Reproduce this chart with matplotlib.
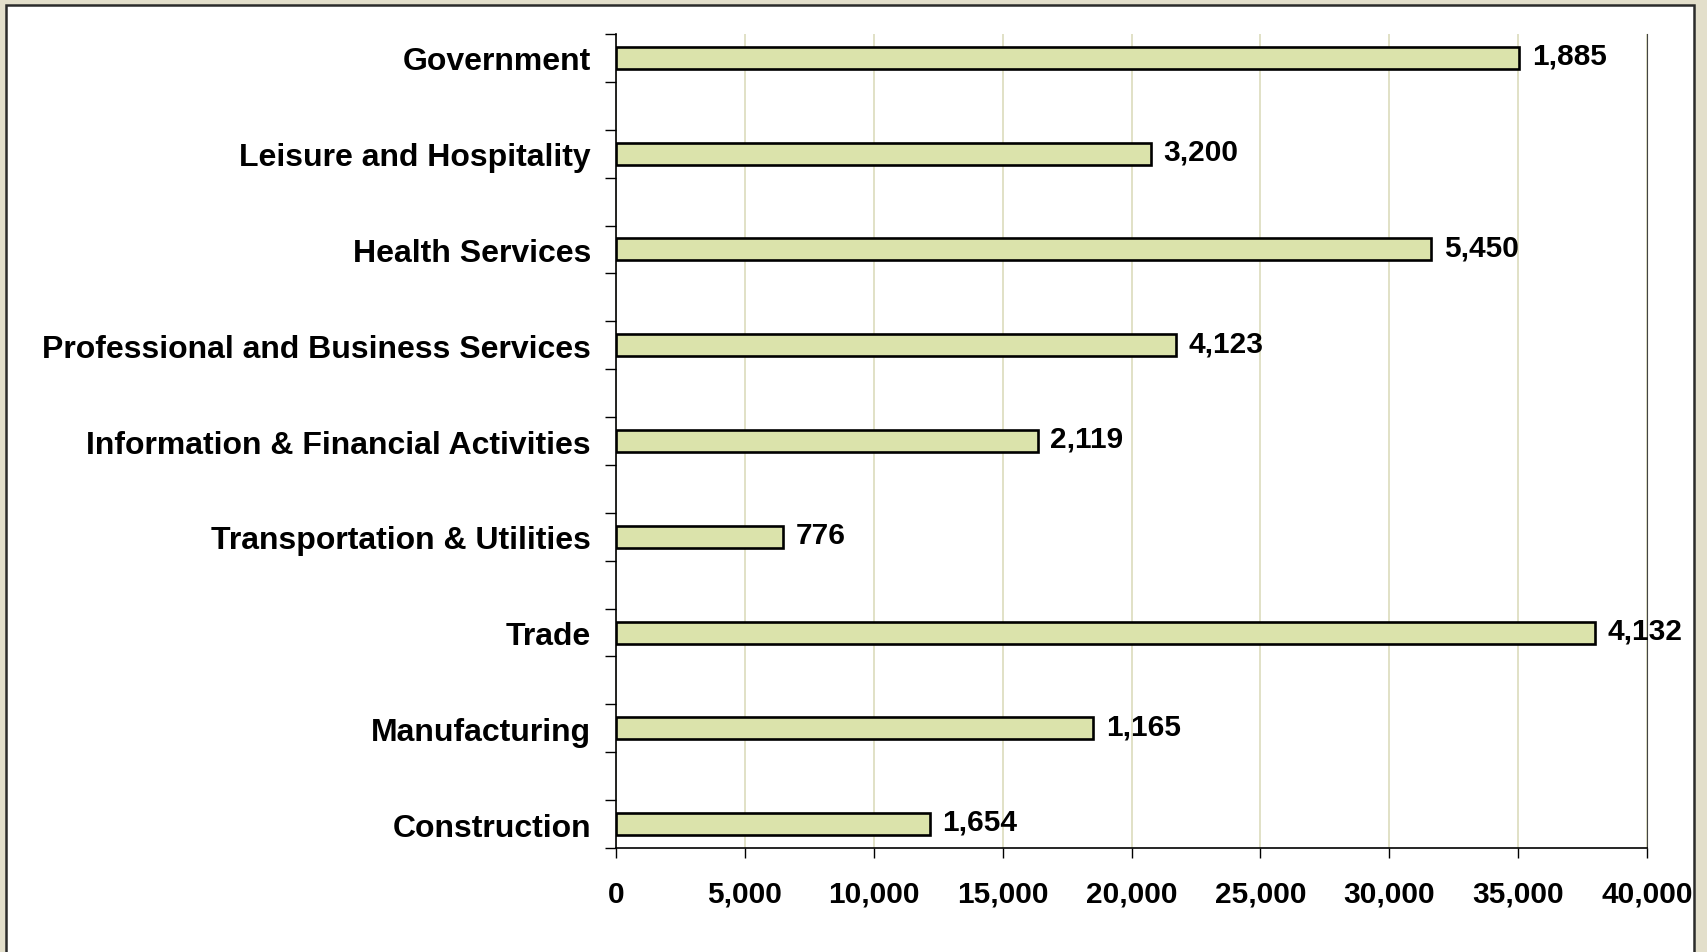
import matplotlib
matplotlib.use("Agg")
import matplotlib.pyplot as plt
from matplotlib.patches import Rectangle
import numpy as np

sectors = ["Government", "Leisure and Hospitality", "Health Services",
           "Professional and Business Services", "Information & Financial Activities",
           "Transportation & Utilities", "Trade", "Manufacturing", "Construction"]
values = [35050, 20760, 31630, 21730, 16360, 6470, 37970, 18520, 12180]
bar_labels = ["1,885", "3,200", "5,450", "4,123", "2,119", "776", "4,132", "1,165", "1,654"]
x_ticks = [0, 5000, 10000, 15000, 20000, 25000, 30000, 35000, 40000]

plt.rcParams['font.family'] = ['Liberation Sans', 'DejaVu Sans']
plt.rcParams['font.weight'] = 'bold'

fig = plt.figure(figsize=(17.07, 9.53), dpi=100)
fig.patch.set_facecolor('#E3DFCB')
# white chart panel with dark frame
fig.patches.append(Rectangle((6 / 1707, -0.01), 1688 / 1707, 1.01 - 6 / 953,
                             transform=fig.transFigure, facecolor='white',
                             edgecolor='#2b2b2b', linewidth=1.8, zorder=-10))

ax = fig.add_axes([616 / 1707, 1 - 849 / 953, 1031 / 1707, 814 / 953])
ax.set_facecolor('none')

# every other slot holds a bar, like the spacer rows of the original sheet
pos = np.arange(len(sectors)) * 2
ax.barh(pos, values, height=0.46, color='#DBE3AB', edgecolor='black',
        linewidth=1.9, zorder=3)

for p, v, lab in zip(pos, values, bar_labels):
    ax.annotate(lab, (v, p), xytext=(9, 1.5), textcoords='offset points',
                ha='left', va='center', fontsize=21.5, fontweight='bold', zorder=4)

ax.set_xlim(0, 40000)
ax.set_ylim(16.5, -0.5)
ax.set_xticks(x_ticks)
ax.set_xticklabels([f"{t:,}" for t in x_ticks], fontsize=21.5, fontweight='bold')
ax.xaxis.grid(True, color='#D8D8B6', linewidth=1.1, zorder=0)

ax.set_yticks(np.arange(-0.5, 17, 1))
ax.set_yticklabels([])
ax.set_yticks(pos, minor=True)
ax.set_yticklabels(sectors, minor=True, fontsize=23, fontweight='bold')
ax.tick_params(axis='y', which='major', length=8, width=1, direction='out')
ax.tick_params(axis='y', which='minor', length=0, pad=18)
ax.tick_params(axis='x', length=7, width=1, direction='out', pad=16)

ax.spines['top'].set_visible(False)
ax.spines['right'].set_color('#444444')
for s in ['left', 'bottom']:
    ax.spines[s].set_color('black')
    ax.spines[s].set_linewidth(1.2)

fig.savefig("out.png", dpi=100, facecolor=fig.get_facecolor())
